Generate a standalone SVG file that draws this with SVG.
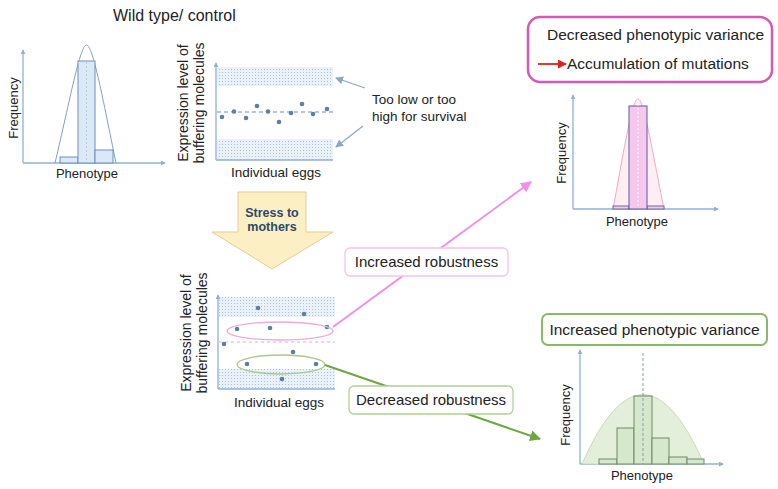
<svg xmlns="http://www.w3.org/2000/svg" width="778" height="489" viewBox="0 0 778 489">
<defs>
<style>
text{font-family:"Liberation Sans",Arial,sans-serif;fill:#222;}
.t13{font-size:13px;}
.t135{font-size:13.5px;}
.t14{font-size:14px;}
.t15{font-size:15px;}
.t155{font-size:15.5px;}
.mid{text-anchor:middle;}
.axis{stroke:#8fb0d8;stroke-width:1.3;fill:none;}
.dot{fill:#5a7fa8;}
.band{fill:url(#stip);}
.bluebar{fill:#dbe8f6;stroke:#6f8fb5;stroke-width:1;}
.greenbar{fill:#d5e8cc;stroke:#6f8a68;stroke-width:1;}
</style>
<pattern id="stip" width="3" height="3" patternUnits="userSpaceOnUse">
<rect width="3" height="3" fill="#eaf1f9"/>
<rect width="1" height="1" fill="#a9c1dd"/>
</pattern>
<marker id="axh" viewBox="0 0 6 6" refX="5" refY="3" markerWidth="5" markerHeight="5" orient="auto" markerUnits="userSpaceOnUse">
<path d="M0,0 L6,3 L0,6 z" fill="#8fb0d8"/>
</marker>
<marker id="bluh" viewBox="0 0 8 8" refX="7" refY="4" markerWidth="8" markerHeight="8" orient="auto" markerUnits="userSpaceOnUse">
<path d="M0,0 L8,4 L0,8 z" fill="#8aa6cc"/>
</marker>
<marker id="pinkh" viewBox="0 0 10 10" refX="9" refY="5" markerWidth="11" markerHeight="11" orient="auto" markerUnits="userSpaceOnUse">
<path d="M0,0 L10,5 L0,10 z" fill="#ee90e6"/>
</marker>
<marker id="greenh" viewBox="0 0 10 10" refX="9" refY="5" markerWidth="11" markerHeight="11" orient="auto" markerUnits="userSpaceOnUse">
<path d="M0,0 L10,5 L0,10 z" fill="#6fa640"/>
</marker>
<marker id="redh" viewBox="0 0 10 10" refX="9" refY="5" markerWidth="9" markerHeight="9" orient="auto" markerUnits="userSpaceOnUse">
<path d="M0,0 L10,5 L0,10 z" fill="#e02020"/>
</marker>
</defs>
<rect width="778" height="489" fill="#ffffff"/>

<g id="title">
<text x="113" y="21" style="font-size:16px">Wild type/ control</text>
</g>

<g id="wild-histogram">
<line class="axis" x1="23" y1="163" x2="23" y2="50" marker-end="url(#axh)"/>
<line class="axis" x1="23" y1="163" x2="165" y2="163" marker-end="url(#axh)"/>
<path d="M55,163 C70,100 80,45 86.5,45 C93,45 103,100 116,163" fill="none" stroke="#7f9fc6" stroke-width="1"/>
<rect class="bluebar" x="60" y="157" width="18" height="6"/>
<rect class="bluebar" x="78" y="61" width="17" height="102"/>
<rect class="bluebar" x="95" y="150" width="18" height="13"/>
<line x1="86.5" y1="62" x2="86.5" y2="162" stroke="#b5cbe6" stroke-width="1" stroke-dasharray="2,2"/>
<text class="t13 mid" x="18" y="108" transform="rotate(-90 18 108)">Frequency</text>
<text class="t13 mid" x="87" y="178">Phenotype</text>
</g>

<g id="wild-expression">
<rect class="band" x="217" y="67" width="116" height="19"/>
<rect class="band" x="217" y="139" width="116" height="21"/>
<line class="axis" x1="216" y1="160" x2="216" y2="63" marker-end="url(#axh)"/>
<line class="axis" x1="216" y1="160" x2="333" y2="160"/>
<line x1="217" y1="112" x2="333" y2="112" stroke="#6a8fc0" stroke-width="1" stroke-dasharray="4,3"/>
<circle class="dot" cx="222" cy="117" r="2.3"/>
<circle class="dot" cx="234" cy="111.5" r="2.3"/>
<circle class="dot" cx="246" cy="118" r="2.3"/>
<circle class="dot" cx="257" cy="106" r="2.3"/>
<circle class="dot" cx="268" cy="111.5" r="2.3"/>
<circle class="dot" cx="279" cy="122" r="2.3"/>
<circle class="dot" cx="291" cy="113" r="2.3"/>
<circle class="dot" cx="302" cy="104" r="2.3"/>
<circle class="dot" cx="313" cy="114" r="2.3"/>
<circle class="dot" cx="327" cy="109" r="2.3"/>
<text class="t14 mid" x="188" y="103" transform="rotate(-90 188 103)">Expression  level of</text>
<text class="t14 mid" x="204" y="103" transform="rotate(-90 204 103)">buffering molecules</text>
<text class="t135 mid" x="276" y="177">Individual eggs</text>
</g>

<g id="survival-note">
<text class="t135" x="372" y="104">Too low or too</text>
<text class="t135" x="372" y="121">high for survival</text>
</g>

<g id="stress-arrow">
<polygon points="238,192 306,192 306,232 333,232 272,269 212,232 238,232" fill="#fdefc4" stroke="#e3cc98" stroke-width="1"/>
<text class="mid" x="272" y="217" style="font-size:12.5px;font-weight:bold;fill:#2b4a6a">Stress to</text>
<text class="mid" x="272" y="231" style="font-size:12.5px;font-weight:bold;fill:#2b4a6a">mothers</text>
</g>

<g id="stress-expression">
<rect class="band" x="219" y="297" width="116" height="20"/>
<rect class="band" x="219" y="369" width="116" height="20"/>
<line class="axis" x1="218" y1="389" x2="218" y2="295" marker-end="url(#axh)"/>
<line class="axis" x1="218" y1="389" x2="335" y2="389"/>
<line x1="219" y1="342" x2="335" y2="342" stroke="#e8a8d8" stroke-width="1" stroke-dasharray="3,3"/>
<circle class="dot" cx="224" cy="344" r="2.3"/>
<circle class="dot" cx="237" cy="329" r="2.3"/>
<circle class="dot" cx="258" cy="308" r="2.3"/>
<circle class="dot" cx="270" cy="328" r="2.3"/>
<circle class="dot" cx="304" cy="314" r="2.3"/>
<circle class="dot" cx="327" cy="327" r="2.3"/>
<circle class="dot" cx="293" cy="352" r="2.3"/>
<circle class="dot" cx="247" cy="364" r="2.3"/>
<circle class="dot" cx="316" cy="364" r="2.3"/>
<circle class="dot" cx="282" cy="379" r="2.3"/>
<ellipse cx="280" cy="331" rx="53" ry="9" fill="none" stroke="#f0a8e0" stroke-width="1.3"/>
<ellipse cx="281" cy="364.5" rx="44" ry="9.5" fill="none" stroke="#a8c890" stroke-width="1.3"/>
<text class="t14 mid" x="191" y="333" transform="rotate(-90 191 333)">Expression  level of</text>
<text class="t14 mid" x="207" y="333" transform="rotate(-90 207 333)">buffering molecules</text>
<text class="t135 mid" x="279" y="407">Individual eggs</text>
</g>

<g id="connectors">
<line x1="365" y1="88" x2="336" y2="78" stroke="#8aa6cc" stroke-width="1.2" marker-end="url(#bluh)"/>
<line x1="363" y1="126" x2="336" y2="147" stroke="#8aa6cc" stroke-width="1.2" marker-end="url(#bluh)"/>
<line x1="333" y1="327" x2="531" y2="182" stroke="#ee90e6" stroke-width="2" marker-end="url(#pinkh)"/>
<line x1="325" y1="365" x2="540" y2="439" stroke="#6fa640" stroke-width="2" marker-end="url(#greenh)"/>
</g>

<g id="increased-robustness">
<rect x="345" y="248" width="163" height="28" rx="5" fill="#ffffff" stroke="#f2c4ea" stroke-width="1.3"/>
<text class="t15 mid" x="426.5" y="267">Increased robustness</text>
</g>

<g id="decreased-robustness">
<rect x="349" y="386" width="164" height="28" rx="5" fill="#ffffff" stroke="#b0d098" stroke-width="1.3"/>
<text class="t15 mid" x="431" y="405">Decreased robustness</text>
</g>

<g id="decreased-variance-box">
<rect x="528" y="17" width="244" height="65" rx="12" fill="#ffffff" stroke="#d55ab5" stroke-width="2.5"/>
<text class="t155" x="547" y="40">Decreased phenotypic variance</text>
<line x1="538" y1="64" x2="566" y2="64" stroke="#e02020" stroke-width="1.8" marker-end="url(#redh)"/>
<text class="t155" x="567" y="69">Accumulation of mutations</text>
</g>

<g id="pink-histogram">
<line class="axis" x1="573" y1="209" x2="573" y2="95" marker-end="url(#axh)"/>
<line class="axis" x1="573" y1="209" x2="718" y2="209" marker-end="url(#axh)"/>
<path d="M613,209 C624,150 632,99 638,99 C644,99 652,150 664,209" fill="#fdeef2" stroke="#f0a8d0" stroke-width="1"/>
<rect x="613" y="206" width="16" height="3" fill="#f6c8ee" stroke="#6a6aa0" stroke-width="1"/>
<rect x="647" y="206" width="17" height="3" fill="#f6c8ee" stroke="#6a6aa0" stroke-width="1"/>
<rect x="629" y="106" width="18" height="103" fill="#f6c8ee" stroke="#5a5a9a" stroke-width="1"/>
<line x1="638" y1="100" x2="638" y2="208" stroke="#ffffff" stroke-width="1" stroke-dasharray="2,2" opacity="0.8"/>
<text class="t13 mid" x="566" y="153" transform="rotate(-90 566 153)">Frequency</text>
<text class="t13 mid" x="637" y="226">Phenotype</text>
</g>

<g id="increased-variance-box">
<rect x="542" y="314" width="225" height="31" rx="6" fill="#ffffff" stroke="#88b868" stroke-width="2"/>
<text class="t155 mid" x="654.5" y="335">Increased phenotypic variance</text>
</g>

<g id="green-histogram">
<line class="axis" x1="580" y1="464" x2="580" y2="350" marker-end="url(#axh)"/>
<line class="axis" x1="580" y1="464" x2="723" y2="464" marker-end="url(#axh)"/>
<path d="M582,464 Q643,325 704,464 Z" fill="#e4efdb" stroke="#c8dcb8" stroke-width="1"/>
<rect class="greenbar" x="599" y="459" width="18" height="5"/>
<rect class="greenbar" x="617" y="428" width="17" height="36"/>
<rect class="greenbar" x="634" y="396" width="18" height="68"/>
<rect class="greenbar" x="652" y="438" width="17" height="26"/>
<rect class="greenbar" x="669" y="457" width="18" height="7"/>
<rect class="greenbar" x="687" y="459" width="17" height="5"/>
<line x1="643" y1="353" x2="643" y2="464" stroke="#8a9ab8" stroke-width="1" stroke-dasharray="3,2"/>
<text class="t13 mid" x="570" y="415" transform="rotate(-90 570 415)">Frequency</text>
<text class="t13 mid" x="642" y="480">Phenotype</text>
</g>
</svg>
